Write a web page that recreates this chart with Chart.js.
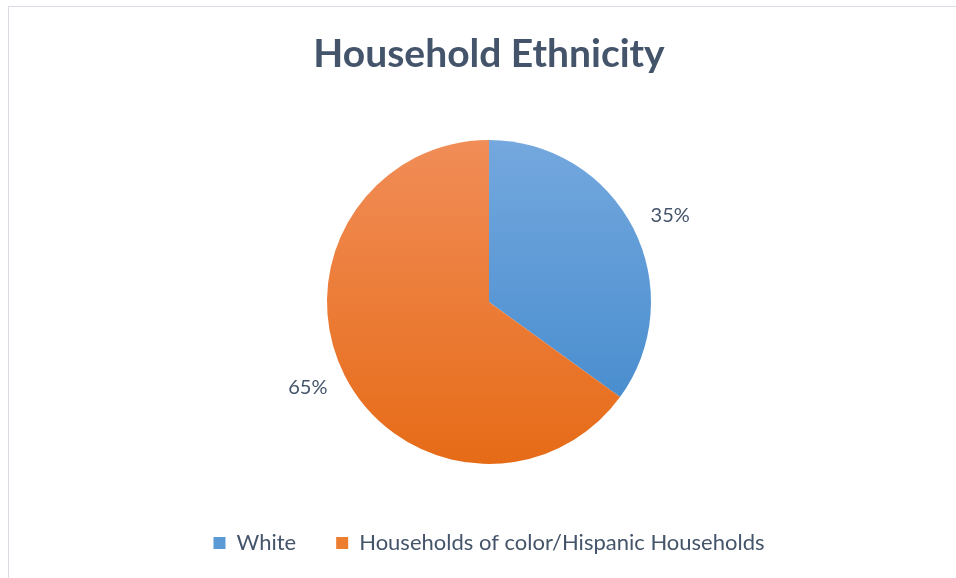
<!DOCTYPE html>
<html>
<head>
<meta charset="utf-8">
<script src="https://cdn.jsdelivr.net/npm/chart.js@4.4.1/dist/chart.umd.min.js"></script>
<style>
  html, body { margin: 0; padding: 0; background: #ffffff; overflow: hidden; }
  #wrap { position: relative; width: 956px; height: 578px; }
  #frame { position: absolute; left: 8px; top: 6px; width: 1000px; height: 700px;
           border-top: 1px solid #D9DDE3; border-left: 1px solid #D9DDE3; pointer-events: none; }
  canvas { position: absolute; left: 0; top: 0; }
</style>
</head>
<body>
<div id="wrap">
  <canvas id="c" width="956" height="578"></canvas>
  <div id="frame"></div>
</div>
<script>
// ---- data ----
const chartTitle = 'Household Ethnicity';
const categories = ['White', 'Households of color/Hispanic Households'];
const values = [35, 65];

// ---- style ----
const topColors = ['#74A8DE', '#F18D58'];
const bottomColors = ['#3F87CB', '#E66B17'];
const legendColors = ['#5B9BD5', '#ED7D31'];
const textColor = '#44546A';
const pieRadius = 162;

function sliceFill(ctx) {
  const chart = ctx.chart;
  const area = chart.chartArea;
  const i = ctx.dataIndex;
  if (!area) return legendColors[i];
  const cy = (area.top + area.bottom) / 2;
  const g = chart.ctx.createLinearGradient(0, cy - pieRadius, 0, cy + pieRadius);
  g.addColorStop(0, topColors[i]);
  g.addColorStop(1, bottomColors[i]);
  return g;
}

const pctLabels = {
  id: 'pctLabels',
  afterDatasetsDraw(chart) {
    const meta = chart.getDatasetMeta(0);
    const data = chart.data.datasets[0].data;
    const total = data.reduce((a, b) => a + b, 0);
    const c = chart.ctx;
    c.save();
    c.font = '20px Lato';
    c.fillStyle = textColor;
    c.textAlign = 'center';
    c.textBaseline = 'middle';
    meta.data.forEach((arc, i) => {
      const p = arc.getProps(['x', 'y', 'startAngle', 'endAngle', 'outerRadius'], true);
      const mid = (p.startAngle + p.endAngle) / 2;
      const dx = p.outerRadius * 1.255;
      const dy = p.outerRadius * 1.17;
      const tx = p.x + Math.cos(mid) * dx;
      const ty = p.y + Math.sin(mid) * dy;
      c.fillText(Math.round(data[i] / total * 100) + '%', tx, ty);
    });
    c.restore();
  }
};

new Chart(document.getElementById('c'), {
  type: 'pie',
  data: {
    labels: categories,
    datasets: [{
      data: values,
      backgroundColor: sliceFill,
      borderWidth: 0,
      radius: pieRadius
    }]
  },
  options: {
    responsive: false,
    devicePixelRatio: 1,
    animation: false,
    layout: { padding: { left: 22, right: 0, top: 0, bottom: 14 } },
    plugins: {
      title: {
        display: true,
        text: chartTitle,
        color: textColor,
        font: { family: 'Lato', size: 39, weight: 'bold' },
        padding: { top: 31, bottom: 34 }
      },
      legend: {
        position: 'bottom',
        labels: {
          color: textColor,
          font: { family: 'Lato', size: 22 },
          boxWidth: 12,
          boxHeight: 12,
          padding: 40,
          generateLabels(chart) {
            return chart.data.labels.map((l, i) => ({
              text: l,
              fillStyle: legendColors[i],
              strokeStyle: legendColors[i],
              lineWidth: 0,
              fontColor: textColor,
              index: i,
              hidden: false
            }));
          }
        }
      },
      tooltip: { enabled: false }
    }
  },
  plugins: [pctLabels]
});
</script>
</body>
</html>
